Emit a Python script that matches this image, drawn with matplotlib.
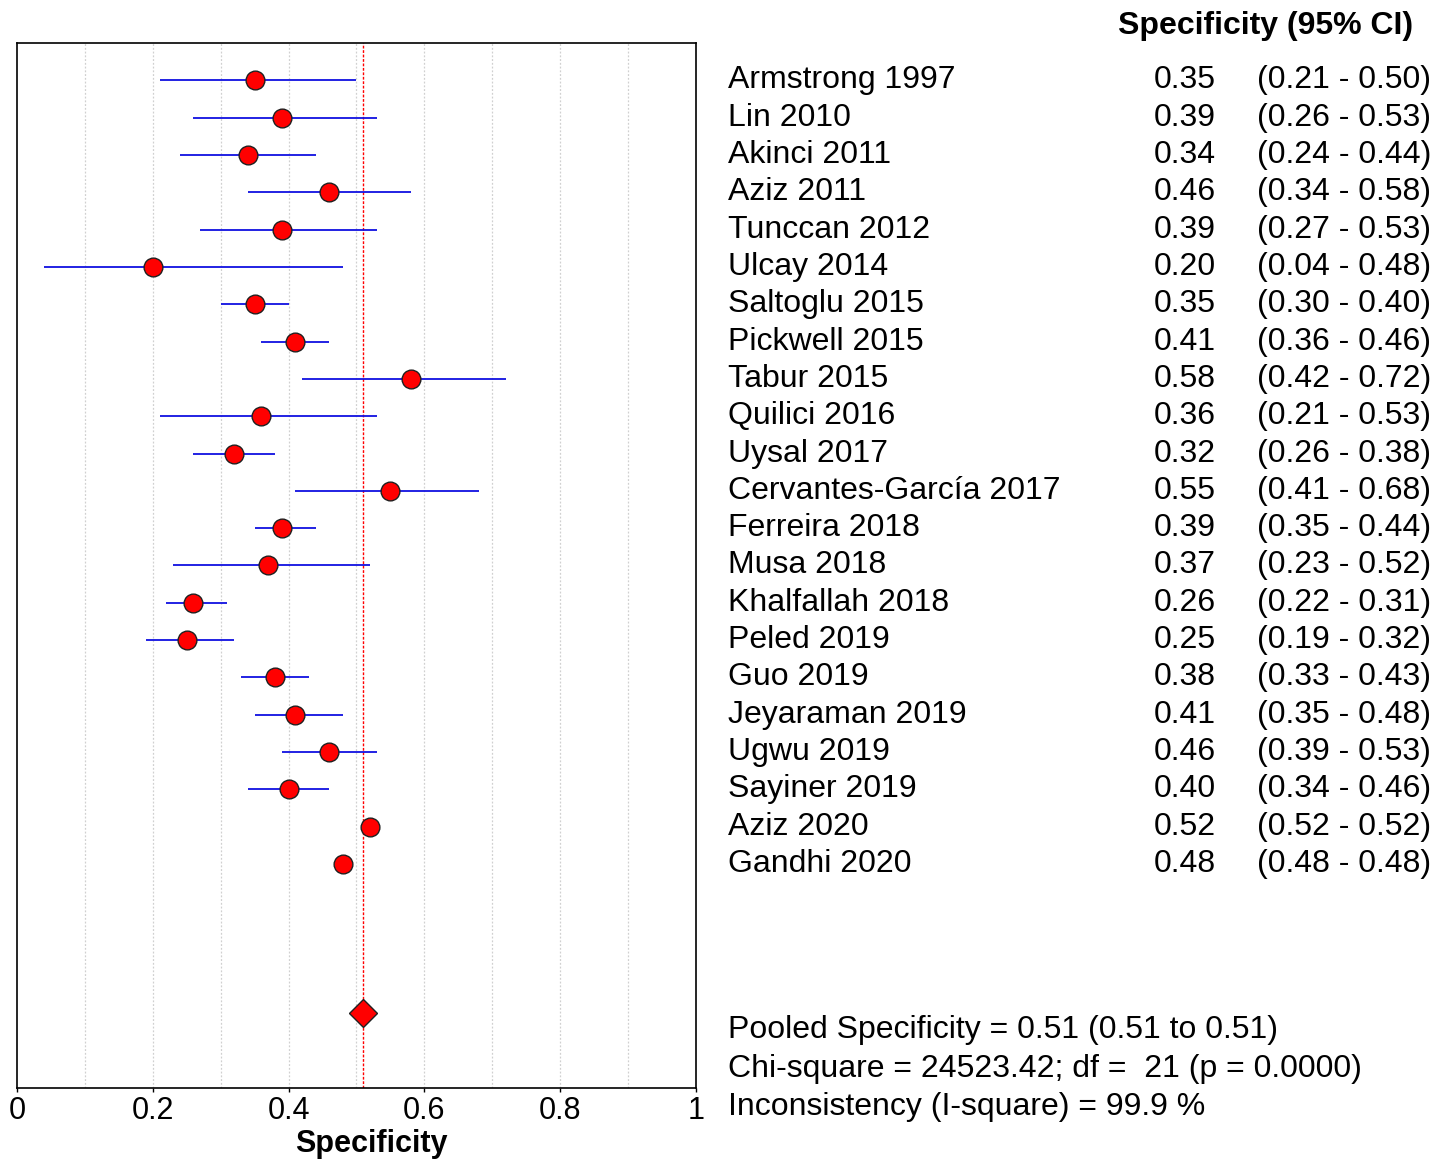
import matplotlib
matplotlib.use("Agg")

import matplotlib.pyplot as plt
import matplotlib.transforms as mtransforms

plt.rcParams["font.family"] = ["Liberation Sans", "DejaVu Sans"]

studies = [
    "Armstrong 1997", "Lin 2010", "Akinci 2011", "Aziz 2011", "Tunccan 2012",
    "Ulcay 2014", "Saltoglu 2015", "Pickwell 2015", "Tabur 2015", "Quilici 2016",
    "Uysal 2017", "Cervantes-García 2017", "Ferreira 2018", "Musa 2018",
    "Khalfallah 2018", "Peled 2019", "Guo 2019", "Jeyaraman 2019", "Ugwu 2019",
    "Sayiner 2019", "Aziz 2020", "Gandhi 2020",
]
spec = [0.35, 0.39, 0.34, 0.46, 0.39, 0.20, 0.35, 0.41, 0.58, 0.36, 0.32,
        0.55, 0.39, 0.37, 0.26, 0.25, 0.38, 0.41, 0.46, 0.40, 0.52, 0.48]
ci_low = [0.21, 0.26, 0.24, 0.34, 0.27, 0.04, 0.30, 0.36, 0.42, 0.21, 0.26,
          0.41, 0.35, 0.23, 0.22, 0.19, 0.33, 0.35, 0.39, 0.34, 0.52, 0.48]
ci_high = [0.50, 0.53, 0.44, 0.58, 0.53, 0.48, 0.40, 0.46, 0.72, 0.53, 0.38,
           0.68, 0.44, 0.52, 0.31, 0.32, 0.43, 0.48, 0.53, 0.46, 0.52, 0.48]

pooled = 0.51
pooled_row = 25
stats_lines = [
    "Pooled Specificity = 0.51 (0.51 to 0.51)",
    "Chi-square = 24523.42; df =  21 (p = 0.0000)",
    "Inconsistency (I-square) = 99.9 %",
]

fig = plt.figure(figsize=(14.49, 11.62), dpi=100)
ax = fig.add_axes([0.0117, 0.0637, 0.4686, 0.8993])

rows = list(range(len(studies)))

# grid
for g in [i / 10 for i in range(1, 10)]:
    ax.axvline(g, color="#d0d0d0", lw=0.9, ls=(0, (1.5, 1.5)), zorder=0)

ax.axvline(pooled, color="red", lw=1.0, ls=(0, (2, 1.2)), zorder=1)

ax.hlines(rows, ci_low, ci_high, color="#1010e0", lw=1.3, zorder=2)
ax.plot(spec, rows, "o", ms=13.5, mfc="red", mec="#202020", mew=1.0, zorder=3)
ax.plot([pooled], [pooled_row], "D", ms=14, mfc="red", mec="#202020", mew=1.0,
        zorder=3)

ax.set_xlim(0, 1)
ax.set_ylim(27, -1)
ax.set_yticks([])
ax.set_xticks([0, 0.2, 0.4, 0.6, 0.8, 1])
ax.set_xticklabels(["0", "0.2", "0.4", "0.6", "0.8", "1"], fontsize=22)
ax.tick_params(axis="x", length=3, width=1, pad=3)
ax.set_xlabel("Specificity", fontsize=22, fontweight="bold", va="center")
ax.xaxis.set_label_coords(0.522, -0.054)
for s in ax.spines.values():
    s.set_linewidth(1.2)

tr = mtransforms.blended_transform_factory(fig.transFigure, ax.transData)

def fx(px):
    return px / 1449

fig.text(fx(1413), 1 - 26 / 1162, "Specificity (95% CI)", fontsize=23,
         fontweight="bold", ha="right", va="center")

for r, name, v, lo, hi in zip(rows, studies, spec, ci_low, ci_high):
    ax.text(fx(728), r, name, transform=tr, fontsize=23, ha="left",
            va="center")
    ax.text(fx(1216), r, f"{v:.2f}", transform=tr, fontsize=23, ha="right",
            va="center")
    ax.text(fx(1431), r, f"({lo:.2f} - {hi:.2f})", transform=tr, fontsize=23,
            ha="right", va="center")

for i, line in enumerate(stats_lines):
    ax.text(fx(728), 25.45 + i * 1.03, line, transform=tr, fontsize=23,
            ha="left", va="center")

fig.savefig("out.png", dpi=100)
